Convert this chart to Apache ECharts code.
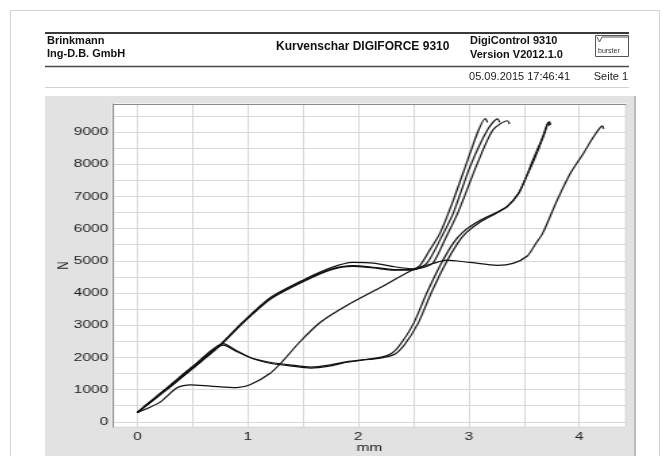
<!DOCTYPE html>
<html>
<head>
<meta charset="utf-8">
<script src="https://cdn.jsdelivr.net/npm/echarts@6/dist/echarts.min.js"></script>
<style>
  html, body { margin: 0; padding: 0; background: #fff; }
  #wrap { position: relative; width: 663px; height: 456px; overflow: hidden; }
  #page { position: absolute; left: 10px; top: 10px; width: 648px; height: 470px; border: 1px solid #d2d2d2; background: #fff; }
  #panel { position: absolute; left: 45px; top: 96px; width: 589px; height: 380px; background: #e2e2e2; border-right: 2px solid #bcbcbc; }
  #head { position: absolute; left: 0; top: 0; width: 663px; height: 96px; }
  #plot { position: absolute; left: 45px; top: 96px; height: 360px; transform-origin: 0 0; }
</style>
</head>
<body>
<div id="wrap">
  <div id="page"></div>
  <div id="panel"></div>
  <div id="head"></div>
  <div id="plot"></div>
</div>
<script>
// Kurvenschar: Weg (mm) gegen Kraft (N)
var curveA1 = [[0,290],[0.1,570],[0.3,1120],[0.5,1680],[0.75,2400],[0.96,3120],[1.2,3850],[1.5,4400],[1.75,4780],[1.95,4950],[2.14,4930],[2.32,4820],[2.5,4750],[2.56,4860],[2.65,5350],[2.74,5860],[2.86,6880],[2.99,8130],[3.09,9070],[3.15,9420],[3.17,9300]];
var curveA2 = [[0,300],[0.1,560],[0.3,1100],[0.5,1660],[0.75,2370],[0.96,3080],[1.2,3800],[1.5,4350],[1.75,4720],[1.95,4830],[2.14,4780],[2.32,4710],[2.5,4720],[2.62,4920],[2.74,5650],[2.86,6480],[3.01,7910],[3.17,9070],[3.26,9410],[3.28,9300]];
var curveA3 = [[0,280],[0.1,550],[0.3,1090],[0.5,1650],[0.75,2380],[0.96,3100],[1.2,3820],[1.5,4380],[1.75,4740],[1.95,4850],[2.14,4800],[2.32,4730],[2.5,4740],[2.6,4800],[2.68,4950],[2.79,5700],[2.9,6480],[3.08,8040],[3.22,9070],[3.35,9350],[3.37,9250]];
var curveB1 = [[0,290],[0.3,1130],[0.5,1700],[0.78,2430],[0.88,2250],[1.02,2000],[1.2,1850],[1.38,1770],[1.57,1700],[1.75,1770],[1.9,1870],[2.05,1930],[2.2,2000],[2.3,2120],[2.38,2400],[2.5,3050],[2.62,4000],[2.74,4850],[2.86,5550],[2.95,5900],[3.1,6250],[3.25,6500],[3.35,6700],[3.45,7100],[3.52,7600],[3.58,8130],[3.67,8850],[3.72,9300],[3.73,9200]];
var curveB2 = [[0,300],[0.3,1150],[0.5,1720],[0.78,2380],[0.9,2180],[1.05,1960],[1.2,1820],[1.38,1740],[1.57,1670],[1.75,1740],[1.9,1850],[2.05,1920],[2.2,1980],[2.33,2100],[2.42,2400],[2.54,3050],[2.66,4000],[2.78,4850],[2.9,5550],[2.98,5880],[3.1,6200],[3.25,6480],[3.35,6680],[3.45,7080],[3.52,7600],[3.6,8200],[3.68,8900],[3.73,9320],[3.74,9220]];
var curveC = [[0,290],[0.1,430],[0.21,620],[0.36,1060],[0.48,1150],[0.66,1110],[0.9,1060],[1.02,1150],[1.2,1500],[1.32,1900],[1.47,2480],[1.66,3100],[1.9,3620],[2.2,4170],[2.5,4730],[2.68,4920],[2.8,5020],[3.01,4950],[3.26,4860],[3.4,4920],[3.53,5150],[3.6,5500],[3.67,5860],[3.8,6880],[3.92,7720],[4.04,8350],[4.13,8850],[4.21,9190],[4.22,9100]];

var curves = [curveA1, curveA2, curveA3, curveB1, curveB2, curveC];
var xRange = [-0.22, 4.42];
var yRange = [-160, 9870];

var fontFam = "'Liberation Sans', Arial, sans-serif";

// Kopfzeile (normaler Text)
var headChart = echarts.init(document.getElementById('head'));
headChart.setOption({
    backgroundColor: 'transparent',
    animation: false,
    graphic: [
        { type: 'line', shape: { x1: 45, y1: 33, x2: 629, y2: 33 }, style: { stroke: '#3a3a3a', lineWidth: 2 } },
        { type: 'line', shape: { x1: 45, y1: 66.5, x2: 629, y2: 66.5 }, style: { stroke: '#4a4a4a', lineWidth: 1.5 } },
        { type: 'line', shape: { x1: 45, y1: 87.5, x2: 629, y2: 87.5 }, style: { stroke: '#d0d0d0', lineWidth: 1 } },
        { type: 'text', left: 47, top: 35, style: { text: 'Brinkmann', font: 'bold 11px ' + fontFam, fill: '#111' } },
        { type: 'text', left: 47, top: 48, style: { text: 'Ing-D.B. GmbH', font: 'bold 11px ' + fontFam, fill: '#111' } },
        { type: 'text', left: 276, top: 41, style: { text: 'Kurvenschar DIGIFORCE 9310', font: 'bold 12px ' + fontFam, fill: '#111' } },
        { type: 'text', left: 470, top: 35, style: { text: 'DigiControl 9310', font: 'bold 11px ' + fontFam, fill: '#111' } },
        { type: 'text', left: 470, top: 49, style: { text: 'Version V2012.1.0', font: 'bold 11px ' + fontFam, fill: '#111' } },
        { type: 'rect', shape: { x: 595.5, y: 35.5, width: 33, height: 21 }, style: { fill: '#fff', stroke: '#555', lineWidth: 1 } },
        { type: 'polyline', shape: { points: [[597, 37], [599.5, 42], [602, 37], [628, 37]] }, style: { stroke: '#555', lineWidth: 1, fill: null } },
        { type: 'text', left: 598, top: 48, style: { text: 'burster', font: '7px ' + fontFam, fill: '#333' } },
        { type: 'text', right: 93, top: 71, style: { text: '05.09.2015 17:46:41', font: '11px ' + fontFam, fill: '#222' } },
        { type: 'text', right: 35, top: 71, style: { text: 'Seite 1', font: '11px ' + fontFam, fill: '#222' } }
    ]
});

// Diagramm: im Original horizontal gestreckt
var K = 1.35;
var plotEl = document.getElementById('plot');
plotEl.style.width = (589 / K) + 'px';
plotEl.style.transform = 'scaleX(' + K + ')';

var myChart = echarts.init(plotEl);
var option = {
    backgroundColor: 'transparent',
    animation: false,
    grid: {
        left: (113 - 45) / K, top: 8, right: (634 - 626) / K, bottom: 29,
        outerBoundsMode: 'none',
        show: true, backgroundColor: '#fff', borderColor: '#f2f2f2', borderWidth: 2
    },
    xAxis: [{
        type: 'value', min: xRange[0], max: xRange[1],
        splitNumber: 9, minInterval: 0.5, maxInterval: 0.5,
        name: 'mm', nameLocation: 'middle', nameGap: 15, nameMoveOverlap: false,
        nameTextStyle: { fontFamily: fontFam, fontSize: 11.5, color: '#222' },
        axisLine: { show: false },
        axisTick: { show: false },
        axisLabel: {
            margin: 4, fontFamily: fontFam, fontSize: 11.5, color: '#222',
            formatter: function (v) { return Math.abs(v - Math.round(v)) < 1e-9 ? String(Math.round(v)) : ''; }
        },
        splitLine: { show: true, lineStyle: { color: '#d8d8d8', width: 1 } }
    }, {
        type: 'value', position: 'top', min: xRange[0], max: xRange[1],
        axisLine: { show: true, onZero: false, lineStyle: { color: '#8a8a8a', width: 1 } },
        axisTick: { show: false }, axisLabel: { show: false }, splitLine: { show: false }
    }],
    yAxis: {
        type: 'value', min: yRange[0], max: yRange[1],
        splitNumber: 20, minInterval: 500, maxInterval: 500,
        name: 'N', nameLocation: 'middle', nameGap: 31, nameRotate: 90, nameMoveOverlap: false,
        nameTextStyle: { fontFamily: fontFam, fontSize: 11.5, color: '#222' },
        axisLine: { show: true, onZero: false, lineStyle: { color: '#8a8a8a', width: 1 } },
        axisTick: { show: false },
        axisLabel: {
            margin: 3.5, fontFamily: fontFam, fontSize: 11.5, color: '#222',
            formatter: function (v) { return v % 1000 === 0 ? String(v) : ''; }
        },
        splitLine: { show: true, lineStyle: { color: '#d8d8d8', width: 1 } }
    },
    series: curves.map(function (c) {
        return {
            type: 'line', data: c, showSymbol: false, smooth: 0.25,
            lineStyle: { color: '#111', width: 1.2 }
        };
    })
};
myChart.setOption(option);
window.addEventListener('resize', function () { myChart.resize(); headChart.resize(); });
</script>
</body>
</html>
